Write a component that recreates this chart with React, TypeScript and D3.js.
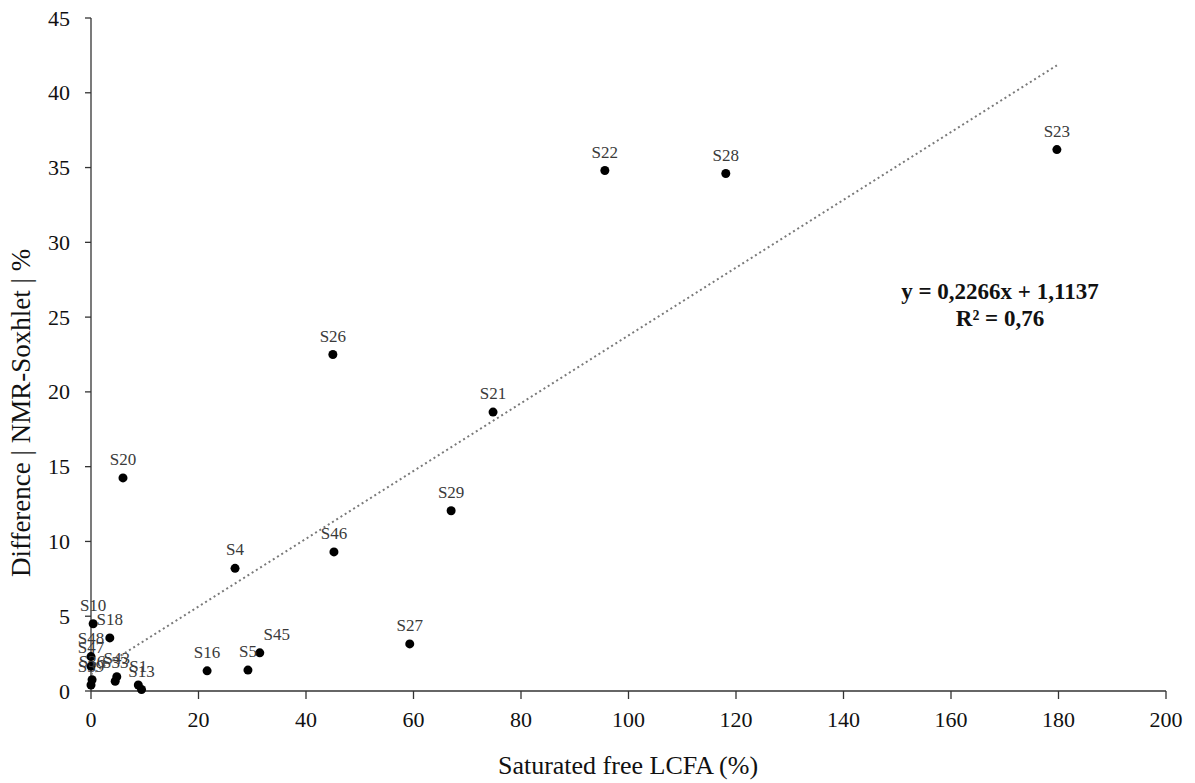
import * as d3 from "d3";

const samples = ["S23", "S28", "S22", "S26", "S21", "S20", "S29", "S46", "S4", "S27", "S45", "S5", "S16", "S10", "S18", "S48", "S47", "S36", "S39", "S43", "S33", "S1", "S13"];
const lcfa = [179.7, 118.1, 95.6, 45.0, 74.8, 5.95, 67.0, 45.2, 26.8, 59.3, 31.4, 29.2, 21.6, 0.4, 3.5, 0.0, 0.0, 0.2, 0.0, 4.8, 4.5, 8.8, 9.4];
const diff = [36.2, 34.6, 34.8, 22.5, 18.65, 14.25, 12.05, 9.3, 8.2, 3.15, 2.55, 1.4, 1.35, 4.5, 3.55, 2.3, 1.65, 0.75, 0.4, 0.95, 0.65, 0.4, 0.1];
// label nudges (px) for crowded points
const labelDx: Record<string, number> = { S45: 17 };

const xTicks = [0, 20, 40, 60, 80, 100, 120, 140, 160, 180, 200];
const yTicks = [0, 5, 10, 15, 20, 25, 30, 35, 40, 45];
const slope = 0.2266;
const intercept = 1.1137;

const W = 1195;
const H = 783;
const margin = { top: 18, right: 29, bottom: 92, left: 91 };
const serif = "'Liberation Serif', 'Times New Roman', serif";

export default function App() {
  const x = d3.scaleLinear().domain([0, 200]).range([margin.left, W - margin.right]);
  const y = d3.scaleLinear().domain([0, 45]).range([H - margin.bottom, margin.top]);
  const pts = samples.map((s, i) => ({ s, x: lcfa[i], y: diff[i] }));
  const xMax = d3.max(lcfa) as number;
  const trend = d3.line<number>().x((v) => x(v)).y((v) => y(intercept + slope * v))([0, xMax]);
  const axisColor = "#333";

  return (
    <svg width={W} height={H} style={{ position: "absolute", left: 0, top: 0, background: "#fff" }} fontFamily={serif}>
      {/* axes */}
      <line x1={x(0)} x2={x(200)} y1={y(0)} y2={y(0)} stroke={axisColor} strokeWidth={1.3} />
      <line x1={x(0)} x2={x(0)} y1={y(0)} y2={y(45)} stroke={axisColor} strokeWidth={1.3} />
      {xTicks.map((t) => (
        <g key={"x" + t}>
          <line x1={x(t)} x2={x(t)} y1={y(0)} y2={y(0) + 8} stroke={axisColor} strokeWidth={1.3} />
          <text x={x(t)} y={y(0) + 36} textAnchor="middle" fontSize={22} fill="#111">{t}</text>
        </g>
      ))}
      {yTicks.map((t) => (
        <g key={"y" + t}>
          <line x1={x(0) - 6} x2={x(0)} y1={y(t)} y2={y(t)} stroke={axisColor} strokeWidth={1.3} />
          <text x={x(0) - 21} y={y(t) + 7.5} textAnchor="end" fontSize={22} fill="#111">{t}</text>
        </g>
      ))}

      {/* trend line */}
      <path d={trend ?? ""} fill="none" stroke="#7a7a7a" strokeWidth={2} strokeDasharray="2 3" />

      {/* points */}
      {pts.map((p) => (
        <g key={p.s}>
          <circle cx={x(p.x)} cy={y(p.y)} r={4.5} fill="#000" />
          <text x={x(p.x) + (labelDx[p.s] ?? 0)} y={y(p.y) - 13} textAnchor="middle" fontSize={17} fill="#3a3a3a">{p.s}</text>
        </g>
      ))}

      {/* equation */}
      <text x={1000} y={299} textAnchor="middle" fontSize={23} fontWeight="bold" fill="#111">y = 0,2266x + 1,1137</text>
      <text x={1000} y={326} textAnchor="middle" fontSize={23} fontWeight="bold" fill="#111">R² = 0,76</text>

      {/* titles */}
      <text x={628} y={774} textAnchor="middle" fontSize={26} fill="#111">Saturated free LCFA (%)</text>
      <text transform={`translate(30,413) rotate(-90)`} textAnchor="middle" fontSize={27} fill="#111">Difference | NMR-Soxhlet | %</text>
    </svg>
  );
}
